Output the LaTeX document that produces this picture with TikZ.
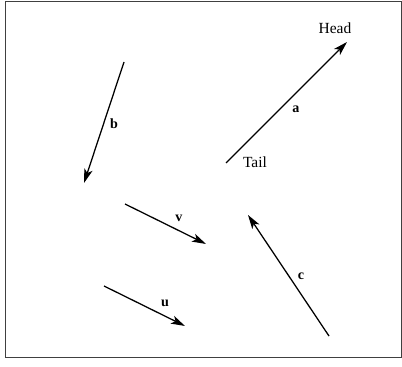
\documentclass[tikz,border=0pt]{standalone}
\usepackage{fontspec}
\setmainfont{Liberation Serif}
\usetikzlibrary{arrows.meta,positioning}
\tikzset{
 vec/.style={line width=.9pt,-{Stealth[length=10pt,width=6pt,inset=2.5pt]}},
 vlbl/.style={font=\bfseries},
}
\begin{document}
\begin{tikzpicture}[x=.025cm,y=-.025cm,font=\fontsize{11}{13}\selectfont]
\useasboundingbox (0,0) rectangle (402,367);
\draw[black!75,line width=.7pt] (5,1) rectangle (401,357);
% tails and heads
\coordinate (aT) at (226,163); \coordinate (aH) at (347,42);
\coordinate (bT) at (124,62);  \coordinate (bH) at (84,183);
\coordinate (vT) at (125,204); \coordinate (vH) at (206,244);
\coordinate (uT) at (104,286); \coordinate (uH) at (185,326);
\coordinate (cT) at (329,336); \coordinate (cH) at (248,215);
\draw[vec] (aT) -- (aH);
\draw[vec] (bT) -- (bH);
\draw[vec] (vT) -- (vH);
\draw[vec] (uT) -- (uH);
\draw[vec] (cT) -- (cH);
% labels
\node[vlbl] (la) at (296,109) {a};
\node[vlbl] (lb) at (114,124) {b};
\node[vlbl] (lv) at (179,218) {v};
\node[vlbl] (lu) at (165,303) {u};
\node[vlbl] (lc) at (301,276) {c};
\node (head) at (335,28) {Head};
\node (tail) at (255,162) {Tail};
\end{tikzpicture}
\end{document}
